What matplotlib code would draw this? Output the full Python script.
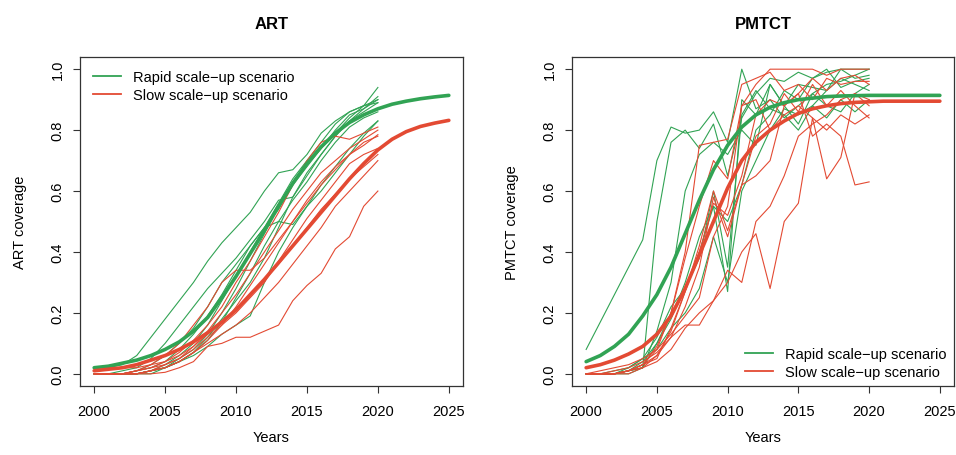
import numpy as np
import matplotlib.pyplot as plt

plt.rcParams['font.family'] = ['Liberation Sans', 'DejaVu Sans']

years = np.arange(2000, 2021)
years_fit = np.arange(2000, 2026)

GREEN = '#31a354'
RED = '#e34a33'

# ---- ART: fitted curves (thick) ----
art_rapid_fit = [0.02, 0.025, 0.035, 0.045, 0.06, 0.08, 0.105, 0.14, 0.185, 0.25,
                 0.32, 0.395, 0.47, 0.55, 0.625, 0.69, 0.745, 0.79, 0.825, 0.85,
                 0.87, 0.885, 0.895, 0.903, 0.909, 0.914]
art_slow_fit = [0.01, 0.015, 0.02, 0.03, 0.045, 0.06, 0.08, 0.105, 0.135, 0.17,
                0.21, 0.26, 0.31, 0.365, 0.42, 0.475, 0.53, 0.585, 0.64, 0.69,
                0.735, 0.77, 0.795, 0.812, 0.823, 0.832]

# ---- ART: country trajectories (thin) ----
art_rapid = [
    [0.01, 0.02, 0.03, 0.06, 0.12, 0.18, 0.24, 0.30, 0.37, 0.43, 0.48, 0.53, 0.60, 0.66, 0.67, 0.72, 0.79, 0.83, 0.86, 0.88, 0.90],
    [0.0, 0.0, 0.01, 0.02, 0.05, 0.10, 0.16, 0.22, 0.28, 0.33, 0.38, 0.44, 0.50, 0.57, 0.58, 0.65, 0.72, 0.78, 0.83, 0.87, 0.91],
    [0.0, 0.0, 0.0, 0.01, 0.03, 0.06, 0.10, 0.15, 0.22, 0.30, 0.36, 0.42, 0.48, 0.54, 0.62, 0.68, 0.74, 0.79, 0.84, 0.88, 0.94],
    [0.0, 0.0, 0.0, 0.01, 0.02, 0.04, 0.08, 0.13, 0.19, 0.26, 0.34, 0.42, 0.48, 0.50, 0.49, 0.55, 0.60, 0.66, 0.72, 0.78, 0.83],
    [0.0, 0.0, 0.0, 0.0, 0.01, 0.03, 0.06, 0.10, 0.16, 0.24, 0.32, 0.40, 0.48, 0.56, 0.64, 0.70, 0.76, 0.82, 0.86, 0.88, 0.89],
    [0.0, 0.0, 0.0, 0.0, 0.01, 0.02, 0.05, 0.08, 0.13, 0.20, 0.28, 0.37, 0.46, 0.55, 0.63, 0.69, 0.74, 0.80, 0.85, 0.87, 0.90],
    [0.0, 0.0, 0.0, 0.0, 0.0, 0.02, 0.04, 0.07, 0.12, 0.18, 0.24, 0.30, 0.38, 0.48, 0.58, 0.66, 0.72, 0.78, 0.83, 0.86, 0.89],
    [0.0, 0.0, 0.0, 0.0, 0.01, 0.02, 0.04, 0.06, 0.09, 0.13, 0.16, 0.19, 0.30, 0.40, 0.48, 0.55, 0.62, 0.68, 0.74, 0.79, 0.83],
    [0.0, 0.0, 0.0, 0.0, 0.01, 0.02, 0.04, 0.07, 0.11, 0.17, 0.25, 0.33, 0.42, 0.50, 0.57, 0.63, 0.70, 0.76, 0.81, 0.84, 0.86],
]
art_slow = [
    [0.0, 0.0, 0.0, 0.0, 0.0, 0.005, 0.02, 0.04, 0.09, 0.10, 0.12, 0.12, 0.14, 0.16, 0.24, 0.29, 0.33, 0.41, 0.45, 0.55, 0.60],
    [0.0, 0.0, 0.0, 0.0, 0.01, 0.02, 0.04, 0.07, 0.10, 0.13, 0.16, 0.20, 0.25, 0.30, 0.36, 0.42, 0.48, 0.55, 0.60, 0.65, 0.70],
    [0.0, 0.0, 0.0, 0.01, 0.02, 0.03, 0.05, 0.08, 0.12, 0.16, 0.20, 0.25, 0.30, 0.37, 0.44, 0.51, 0.57, 0.63, 0.69, 0.72, 0.74],
    [0.0, 0.0, 0.0, 0.01, 0.03, 0.06, 0.10, 0.16, 0.22, 0.30, 0.34, 0.34, 0.38, 0.44, 0.50, 0.56, 0.62, 0.67, 0.72, 0.76, 0.78],
    [0.0, 0.0, 0.0, 0.01, 0.02, 0.04, 0.07, 0.11, 0.16, 0.22, 0.30, 0.37, 0.45, 0.53, 0.62, 0.70, 0.76, 0.78, 0.77, 0.79, 0.81],
    [0.0, 0.0, 0.0, 0.0, 0.01, 0.03, 0.05, 0.09, 0.14, 0.20, 0.26, 0.33, 0.40, 0.47, 0.54, 0.60, 0.66, 0.70, 0.74, 0.77, 0.80],
    [0.0, 0.0, 0.0, 0.0, 0.01, 0.02, 0.04, 0.07, 0.11, 0.16, 0.22, 0.29, 0.36, 0.43, 0.50, 0.57, 0.63, 0.68, 0.72, 0.75, 0.785],
    [0.02, 0.02, 0.02, 0.02, 0.03, 0.04, 0.06, 0.09, 0.13, 0.17, 0.21, 0.26, 0.31, 0.36, 0.42, 0.48, 0.54, 0.59, 0.64, 0.68, 0.72],
]

# ---- PMTCT: fitted curves (thick) ----
pmtct_rapid_fit = [0.04, 0.06, 0.09, 0.13, 0.19, 0.26, 0.35, 0.46, 0.57, 0.67,
                   0.75, 0.81, 0.85, 0.875, 0.89, 0.90, 0.905, 0.91, 0.912, 0.913,
                   0.914, 0.914, 0.914, 0.914, 0.914, 0.914]
pmtct_slow_fit = [0.02, 0.03, 0.045, 0.065, 0.09, 0.13, 0.19, 0.28, 0.39, 0.50,
                  0.61, 0.70, 0.76, 0.80, 0.83, 0.855, 0.87, 0.88, 0.887, 0.891,
                  0.893, 0.895, 0.895, 0.895, 0.895, 0.895]

# ---- PMTCT: country trajectories (thin) ----
pmtct_rapid = [
    [0.08, 0.17, 0.26, 0.35, 0.44, 0.70, 0.81, 0.79, 0.80, 0.86, 0.76, 1.0, 0.87, 0.90, 0.84, 0.88, 0.92, 0.95, 0.96, 0.98, 1.0],
    [0.0, 0.0, 0.0, 0.0, 0.02, 0.50, 0.76, 0.80, 0.74, 0.82, 0.65, 0.84, 0.92, 0.97, 0.96, 0.99, 0.97, 0.99, 1.0, 1.0, 1.0],
    [0.0, 0.0, 0.0, 0.01, 0.02, 0.10, 0.18, 0.30, 0.45, 0.55, 0.27, 0.90, 0.85, 0.95, 0.88, 0.95, 0.94, 0.93, 1.0, 0.97, 0.98],
    [0.0, 0.0, 0.0, 0.01, 0.04, 0.10, 0.20, 0.28, 0.40, 0.55, 0.50, 0.62, 0.80, 0.85, 0.93, 0.90, 0.97, 1.0, 0.94, 0.96, 0.97],
    [0.0, 0.0, 0.0, 0.01, 0.02, 0.14, 0.30, 0.60, 0.72, 0.76, 0.72, 0.80, 0.75, 0.95, 0.88, 0.82, 0.92, 0.88, 0.86, 0.92, 0.95],
    [0.0, 0.0, 0.01, 0.02, 0.05, 0.08, 0.15, 0.20, 0.28, 0.45, 0.30, 0.60, 0.70, 0.80, 0.87, 0.85, 0.88, 0.93, 0.97, 0.95, 0.93],
    [0.0, 0.0, 0.0, 0.02, 0.05, 0.12, 0.22, 0.28, 0.38, 0.60, 0.35, 0.85, 0.93, 0.87, 0.85, 0.80, 0.88, 0.84, 0.90, 0.86, 0.90],
]
pmtct_slow = [
    [0.0, 0.0, 0.0, 0.0, 0.02, 0.04, 0.08, 0.15, 0.20, 0.24, 0.30, 0.40, 0.46, 0.28, 0.50, 0.56, 0.84, 0.64, 0.71, 0.92, 0.90],
    [0.0, 0.0, 0.0, 0.01, 0.03, 0.06, 0.14, 0.27, 0.42, 0.60, 0.47, 0.62, 0.65, 0.70, 0.88, 0.92, 0.78, 0.82, 0.78, 0.62, 0.63],
    [0.0, 0.0, 0.0, 0.01, 0.03, 0.09, 0.20, 0.38, 0.55, 0.70, 0.64, 0.88, 0.95, 1.0, 1.0, 1.0, 1.0, 0.98, 1.0, 1.0, 1.0],
    [0.0, 0.0, 0.0, 0.01, 0.03, 0.08, 0.20, 0.40, 0.75, 0.76, 0.77, 0.95, 0.97, 0.99, 0.93, 0.95, 0.90, 0.97, 0.95, 0.96, 0.96],
    [0.0, 0.0, 0.01, 0.02, 0.04, 0.07, 0.12, 0.22, 0.35, 0.58, 0.45, 0.62, 0.78, 0.82, 0.92, 0.86, 0.95, 0.88, 0.93, 0.88, 0.84],
    [0.0, 0.0, 0.0, 0.01, 0.02, 0.06, 0.12, 0.16, 0.16, 0.24, 0.34, 0.30, 0.50, 0.55, 0.65, 0.78, 0.82, 0.85, 0.90, 0.92, 0.88],
    [0.0, 0.01, 0.02, 0.03, 0.05, 0.08, 0.13, 0.19, 0.25, 0.45, 0.55, 0.88, 0.90, 0.80, 0.85, 0.88, 0.84, 0.80, 0.85, 0.82, 0.85],
    [0.0, 0.0, 0.0, 0.01, 0.03, 0.05, 0.15, 0.27, 0.40, 0.56, 0.52, 0.65, 0.85, 0.90, 0.88, 0.92, 0.97, 0.93, 0.97, 0.98, 0.95],
]

xticks = [2000, 2005, 2010, 2015, 2020, 2025]
yticks = [0.0, 0.2, 0.4, 0.6, 0.8, 1.0]

W, H = 956, 456
fig = plt.figure(figsize=(W / 100, H / 100), dpi=100)


def make_axes(left, right, top, bottom):
    return fig.add_axes([left / W, 1 - bottom / H, (right - left) / W, (bottom - top) / H])


def draw_panel(ax, title, ylabel, rapid, slow, rapid_fit, slow_fit, legend_loc, pad):
    for y in rapid:
        ax.plot(years, y, color=GREEN, lw=0.8)
    for y in slow:
        ax.plot(years, y, color=RED, lw=0.8)
    ax.plot(years_fit, rapid_fit, color=GREEN, lw=2.6, solid_capstyle='round')
    ax.plot(years_fit, slow_fit, color=RED, lw=2.6, solid_capstyle='round')

    ax.set_xlim(1999, 2026)
    ax.set_ylim(-0.04, 1.04)
    ax.set_xticks(xticks)
    ax.set_yticks(yticks)
    ax.set_yticklabels(['%.1f' % v for v in yticks], rotation=90, va='center')
    ax.tick_params(direction='out', length=5, width=0.8, labelsize=10.5, color='#333333')
    ax.tick_params(axis='x', pad=8)
    ax.tick_params(axis='y', pad=6)
    for s in ax.spines.values():
        s.set_color('#333333')
        s.set_linewidth(0.9)

    ax.set_title(title, fontsize=12, fontweight='bold', pad=21)
    ax.set_xlabel('Years', fontsize=10.5, va='center')
    ax.xaxis.set_label_coords(0.5, -51 / 329)
    ax.set_ylabel(ylabel, fontsize=10.5, va='center')
    ax.yaxis.set_label_coords(-60 / 383, 0.5)

    h1, = ax.plot([], [], color=GREEN, lw=1.3)
    h2, = ax.plot([], [], color=RED, lw=1.3)
    ax.legend([h1, h2], ['Rapid scale\u2212up scenario', 'Slow scale\u2212up scenario'],
              loc=legend_loc, frameon=False, fontsize=10.5, handlelength=1.9,
              handletextpad=0.85, labelspacing=0.25, borderaxespad=pad)


ax1 = make_axes(80, 463, 58, 387)
draw_panel(ax1, 'ART', 'ART coverage', art_rapid, art_slow,
           art_rapid_fit, art_slow_fit, 'upper left', 0.5)

ax2 = make_axes(572, 954, 58, 387)
draw_panel(ax2, 'PMTCT', 'PMTCT coverage', pmtct_rapid, pmtct_slow,
           pmtct_rapid_fit, pmtct_slow_fit, 'lower right', 0.1)

fig.savefig('out.png', dpi=100)
